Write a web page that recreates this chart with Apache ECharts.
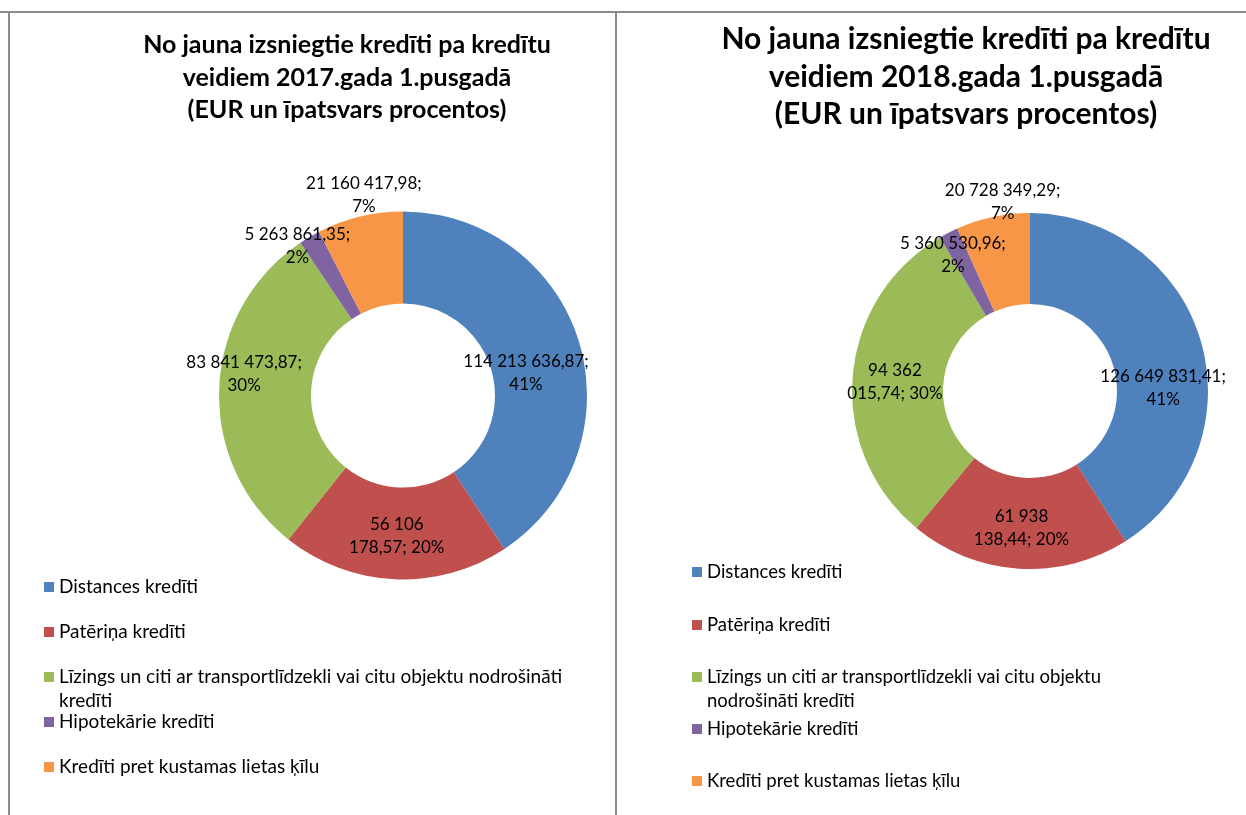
<!DOCTYPE html>
<html>
<head>
<meta charset="utf-8">
<script src="https://cdn.jsdelivr.net/npm/echarts@6/dist/echarts.min.js"></script>
<style>
  html, body { margin: 0; padding: 0; background: #fff; }
  #main { width: 1246px; height: 815px; }
</style>
</head>
<body>
<div id="main"></div>
<script>
// kategorijas
var categories = [
    'Distances kredīti',
    'Patēriņa kredīti',
    'Līzings un citi ar transportlīdzekli vai citu objektu nodrošināti kredīti',
    'Hipotekārie kredīti',
    'Kredīti pret kustamas lietas ķīlu'
];
// EUR, 2017.gada 1.pusgads
var values2017 = [114213636.87, 56106178.57, 83841473.87, 5263861.35, 21160417.98];
// EUR, 2018.gada 1.pusgads
var values2018 = [126649831.41, 61938138.44, 94362015.74, 5360530.96, 20728349.29];

var title2017 = 'No jauna izsniegtie kredīti pa kredītu\nveidiem 2017.gada 1.pusgadā\n(EUR un īpatsvars procentos)';
var title2018 = 'No jauna izsniegtie kredīti pa kredītu\nveidiem 2018.gada 1.pusgadā\n(EUR un īpatsvars procentos)';

// kur lauzt etiķetes rindu: 'semi' = pēc semikola, 'mid' = pēc 2. skaitļu grupas
var wrap2017 = ['semi', 'mid', 'semi', 'semi', 'semi'];
var wrap2018 = ['semi', 'mid', 'mid', 'semi', 'semi'];

var colors = ['#4F81BD', '#C0504D', '#9BBB59', '#8064A2', '#F79646'];
var font = 'Lato, "Open Sans", sans-serif';

// etiķešu nobīdes (px) no gredzena vidus
var offs2017 = [[-12, 18], [0, 0], [-18, -16], [-34, -28], [-6, -63]];
var offs2018 = [[3, 35], [0, 2], [0, 2], [-15, -16], [1, -56]];

function fmtNum(v) {
    var p = v.toFixed(2).split('.');
    return p[0].replace(/\B(?=(\d{3})+(?!\d))/g, ' ') + ',' + p[1];
}

function makeLabel(wrap) {
    return function (params) {
        var num = fmtNum(params.value);
        var pct = Math.round(params.percent) + '%';
        if (wrap[params.dataIndex] === 'mid') {
            var parts = num.split(' ');
            return parts.slice(0, 2).join(' ') + '\n' + parts.slice(2).join(' ') + '; ' + pct;
        }
        return num + ';\n' + pct;
    };
}

function pieData(vals) {
    return vals.map(function (v, i) { return { name: categories[i], value: v }; });
}

function makeSeries(vals, wrap, offs, center, radius) {
    return {
        type: 'pie',
        center: center,
        radius: radius,
        startAngle: 90,
        clockwise: true,
        percentPrecision: 0,
        avoidLabelOverlap: false,
        silent: true,
        itemStyle: { borderWidth: 0 },
        label: {
            show: true,
            position: 'inside',
            formatter: makeLabel(wrap),
            color: '#000',
            fontFamily: font,
            fontSize: 17,
            lineHeight: 23
        },
        labelLine: { show: false },
        labelLayout: function (p) {
            var o = offs[p.dataIndex];
            return { dx: o[0], dy: o[1] };
        },
        data: pieData(vals)
    };
}

// leģendas - katrs ieraksts atsevišķi
var legendRows2017 = [587, 632, 677, 722, 767];
var legendRows2018 = [572, 625, 677, 729, 781];
var legendText2017 = [null, null, 'Līzings un citi ar transportlīdzekli vai citu objektu nodrošināti\nkredīti', null, null];
var legendText2018 = [null, null, 'Līzings un citi ar transportlīdzekli vai citu objektu\nnodrošināti kredīti', null, null];

function makeLegends(rows, texts, left, size) {
    return categories.map(function (c, i) {
        var multi = texts[i] !== null;
        return {
            data: [c],
            left: left,
            top: multi ? rows[i] - 36 : rows[i] - 12,
            padding: 0,
            icon: 'rect',
            itemWidth: 10,
            itemHeight: 10,
            selectedMode: false,
            formatter: multi ? ('\n' + texts[i]) : '{name}',
            textStyle: { color: '#000', fontFamily: font, fontSize: size, lineHeight: 24 }
        };
    });
}

var myChart = echarts.init(document.getElementById('main'));

var option = {
    backgroundColor: '#fff',
    color: colors,
    animation: false,
    title: [
        {
            text: title2017, left: 342, top: 24, textAlign: 'center',
            textStyle: { fontFamily: font, fontWeight: 'bold', fontSize: 25, lineHeight: 32.5, color: '#000' }
        },
        {
            text: title2018, left: 961, top: 16, textAlign: 'center',
            textStyle: { fontFamily: font, fontWeight: 'bold', fontSize: 30, lineHeight: 37.5, color: '#000' }
        }
    ],
    legend: makeLegends(legendRows2017, legendText2017, 44, 19)
        .concat(makeLegends(legendRows2018, legendText2018, 692, 18.5)),
    //rāmji
    graphic: [
        { type: 'line', shape: { x1: 0, y1: 12, x2: 1246, y2: 12 }, style: { stroke: '#8c8c8c', lineWidth: 2 } },
        { type: 'line', shape: { x1: 9, y1: 12, x2: 9, y2: 815 }, style: { stroke: '#8c8c8c', lineWidth: 2 } },
        { type: 'line', shape: { x1: 616, y1: 12, x2: 616, y2: 815 }, style: { stroke: '#8c8c8c', lineWidth: 2 } }
    ],
    series: [
        makeSeries(values2017, wrap2017, offs2017, [403, 395.5], [92, 184]),
        makeSeries(values2018, wrap2018, offs2018, [1030, 391], [87, 178])
    ]
};

myChart.setOption(option);
</script>
</body>
</html>
